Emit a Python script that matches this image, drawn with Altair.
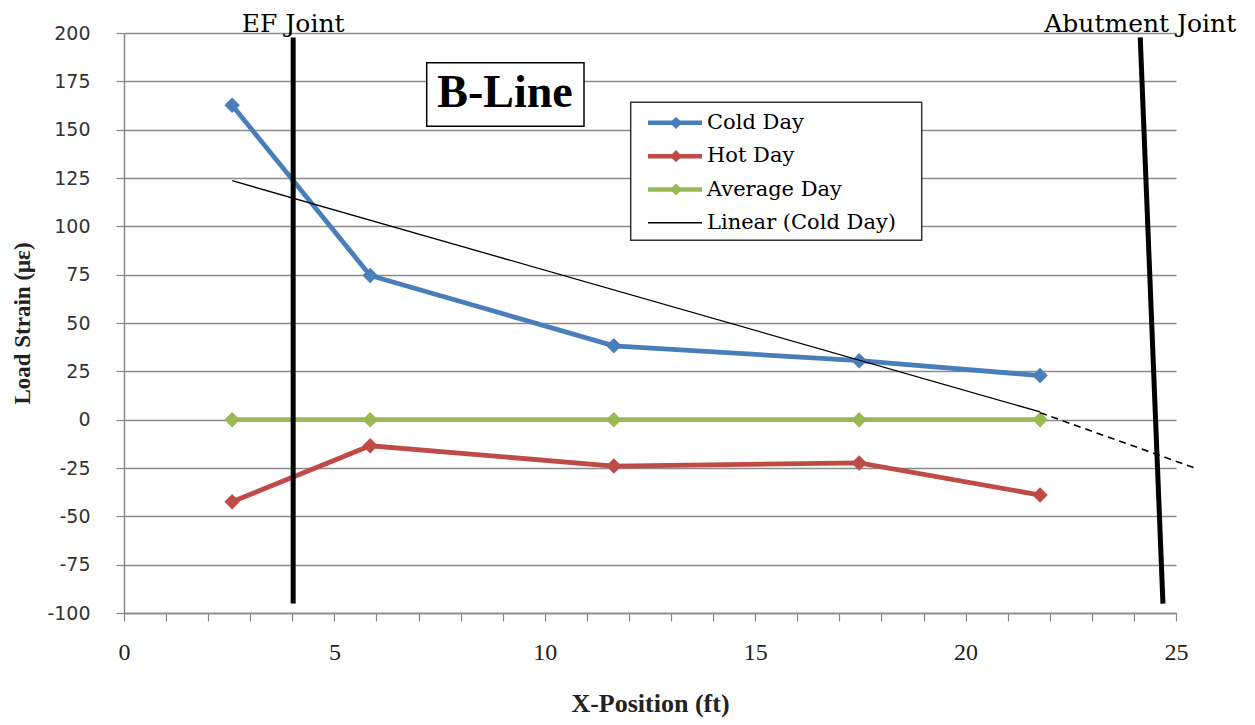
import altair as alt
import pandas as pd

# ---------------- data ----------------
x_pos = [2.57, 5.85, 11.64, 17.47, 21.77]
cold_day = [162.6, 74.6, 38.2, 30.5, 22.8]
hot_day = [-42.5, -13.5, -24.0, -22.4, -39.0]
average_day = [0.0, 0.0, 0.0, 0.0, 0.0]
series_names = ["Cold Day", "Hot Day", "Average Day"]
series_colors = ["#4A7EBB", "#BE4B48", "#98B954"]
trend_label = "Linear (Cold Day)"

# hand-drawn dashed extension of the trend line
ext_x = [21.77, 25.45]
ext_y = [3.6, -25.0]

# joint markers (slanted abutment line)
joint_names = ["EF Joint", "Abutment Joint"]
joint_x_top = [4.02, 24.15]
joint_x_bottom = [4.02, 24.69]
joint_y_top = [197.7, 197.7]
joint_y_bottom = [-95.1, -95.1]

x_ticks = list(range(0, 26))
y_ticks = list(range(-100, 201, 25))
panel_title = "B-Line"
x_title = "X-Position (ft)"
y_title = "Load Strain (με)"

# ---------------- tables ----------------
rows = []
for name, vals in zip(series_names, [cold_day, hot_day, average_day]):
    for xv, yv in zip(x_pos, vals):
        rows.append({"x": xv, "y": yv, "series": name})
df = pd.DataFrame(rows)
df_cold = pd.DataFrame({"x": x_pos, "y": cold_day})
df_ext = pd.DataFrame({"x": ext_x, "y": ext_y})
df_joint = pd.DataFrame({"name": joint_names, "x": joint_x_top, "x2": joint_x_bottom,
                         "y": joint_y_top, "y2": joint_y_bottom})

legend_names = series_names + [trend_label]
legend_colors = series_colors + ["#000000"]
legend_df = pd.DataFrame({
    "name": legend_names,
    "col": legend_colors,
    "idx": list(range(len(legend_names))),
    "sw": [4.5, 4.5, 4.5, 1.5],
    "marker": [1, 1, 1, 0],
})

xs = alt.Scale(domain=[0, 25], nice=False, zero=False)
ys = alt.Scale(domain=[-100, 200], nice=False, zero=False)

x_axis = alt.Axis(
    values=x_ticks,
    labelExpr="datum.value % 5 === 0 ? datum.label : ''",
    grid=False, tickSize=8, tickColor="#888888", tickWidth=1.2,
    domainColor="#888888", domainWidth=1.5,
    labelFont="Liberation Serif", labelFontSize=24, labelColor="#222222",
    labelPadding=19, labelFlush=False, labelOverlap=False,
    title=x_title, titleFont="Liberation Serif", titleFontSize=26,
    titleFontWeight="bold", titleColor="#222222", titleY=98, titleBaseline="alphabetic",
)
y_axis = alt.Axis(
    values=y_ticks, grid=True, gridColor="#8c8c8c", gridWidth=1.5,
    labelExpr="(datum.value < 0 ? '-' : '') + abs(datum.value)",
    tickSize=8, tickColor="#888888", tickWidth=1.2,
    domainColor="#888888", domainWidth=1.5,
    labelFont="DejaVu Sans", labelFontSize=19, labelColor="#333333", labelPadding=26,
    title=y_title, titleFont="Liberation Serif", titleFontSize=23,
    titleFontWeight="bold", titleColor="#222222", titleX=-94.5, titleBaseline="alphabetic",
    titleAngle=270,
)

X = alt.X("x:Q", scale=xs, axis=x_axis)
Y = alt.Y("y:Q", scale=ys, axis=y_axis)
color = alt.Color("series:N", scale=alt.Scale(domain=series_names, range=series_colors), legend=None)

lines = alt.Chart(df).mark_line(strokeWidth=4.8).encode(x=X, y=Y, color=color)
points = alt.Chart(df).mark_point(shape="diamond", filled=True, size=240, opacity=1).encode(
    x=X, y=Y, color=color)

trend = alt.Chart(df_cold).transform_regression("x", "y").mark_line(
    color="black", strokeWidth=1.3).encode(x=X, y=Y)
ext = alt.Chart(df_ext).mark_line(color="black", strokeWidth=1.6, strokeDash=[7, 5]).encode(x=X, y=Y)

joints = alt.Chart(df_joint).mark_rule(color="black", strokeWidth=5).encode(
    x=X, y=Y, x2="x2:Q", y2="y2:Q")
joint_text = alt.Chart(df_joint).mark_text(
    font="DejaVu Serif", fontSize=25, baseline="alphabetic", align="center", color="black"
).encode(x=alt.X("x:Q", scale=xs, axis=x_axis), y=alt.value(-1.5), text="name:N")

title_df = pd.DataFrame({"t": [panel_title]})
title_box = alt.Chart(title_df).mark_rect(fill="white", stroke="black", strokeWidth=1.5).encode(
    x=alt.value(302.7), x2=alt.value(460), y=alt.value(29.8), y2=alt.value(93.2))
title_text = alt.Chart(title_df).mark_text(
    font="Liberation Serif", fontWeight="bold", fontSize=46, baseline="middle", align="center",
    color="black").encode(x=alt.value(381), y=alt.value(60), text="t:N")

leg_box = alt.Chart(title_df).mark_rect(fill="white", stroke="#333333", strokeWidth=1.5).encode(
    x=alt.value(506.7), x2=alt.value(797.7), y=alt.value(69.2), y2=alt.value(207.2))
leg_base = alt.Chart(legend_df).transform_calculate(
    ly="89.8 + datum.idx * 33.35", lx1="524", lx2="578", lxd="552", lxt="583")
leg_lines = leg_base.mark_rule().encode(
    x=alt.X("lx1:Q", scale=None), x2="lx2:Q", y=alt.Y("ly:Q", scale=None),
    color=alt.Color("col:N", scale=None),
    strokeWidth=alt.StrokeWidth("sw:Q", scale=None))
leg_pts = leg_base.transform_filter("datum.marker == 1").mark_point(
    shape="diamond", filled=True, size=150, opacity=1).encode(
    x=alt.X("lxd:Q", scale=None), y=alt.Y("ly:Q", scale=None),
    color=alt.Color("col:N", scale=None))
leg_text = leg_base.mark_text(font="DejaVu Serif", fontSize=21, align="left", baseline="middle",
                              color="black").encode(
    x=alt.X("lxt:Q", scale=None), y=alt.Y("ly:Q", scale=None), text="name:N")

chart = alt.layer(
    lines, points, trend, ext, joints, joint_text, title_box, title_text,
    leg_box, leg_lines, leg_pts, leg_text
).properties(
    width=1052, height=580,
    autosize=alt.AutoSizeParams(type="none"),
    padding={"left": 116, "top": 25, "right": 70, "bottom": 104},
).configure_view(stroke=None)

chart.save("out.html", embed_options={"renderer": "svg", "actions": False})
